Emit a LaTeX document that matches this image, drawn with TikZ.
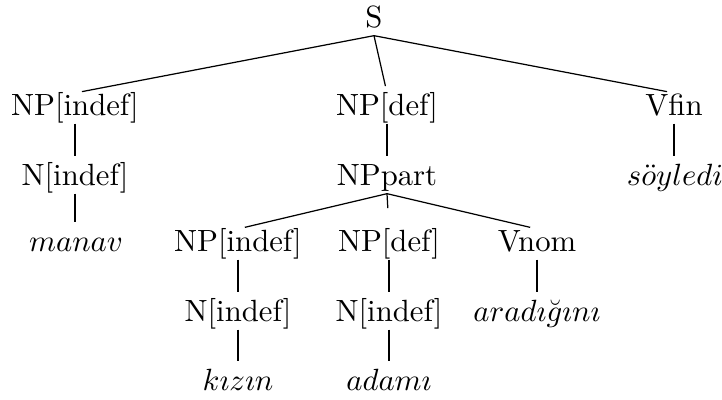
\documentclass[tikz,border=0pt]{standalone}
\usepackage{amsmath}
\begin{document}
\begin{tikzpicture}[x=0.3257pt,y=-0.3257pt,
  tn/.style={anchor=base,inner sep=0pt,outer sep=0pt,text height=7.5pt,text depth=2.5pt},
  br/.style={line width=0.4pt,shorten >=2.3pt},
  vr/.style={line width=0.6pt,shorten >=2.3pt},
  brmid/.style={line width=0.4pt,shorten >=6.8pt}]
\useasboundingbox (0,0) rectangle (722,400);
% level 0
\node[tn] (s) at (374,28) {S};
% level 1
\node[tn] (np1) at (75,116) {NP[indef]};
\node[tn] (np2) at (387,116) {NP[def]};
\node[tn] (vfin) at (674,116) {Vfin};
% level 2
\node[tn] (n1) at (75,186) {N[indef]};
\node[tn] (nppart) at (387,186) {NPpart};
\node[tn] (soyledi) at (675,186) {$s\ddot{o}yledi$};
% level 3
\node[tn] (manav) at (76,252) {$manav$};
\node[tn] (np3) at (238,252) {NP[indef]};
\node[tn] (np4) at (389,252) {NP[def]};
\node[tn] (vnom) at (537,252) {Vnom};
% level 4
\node[tn] (n2) at (238,322) {N[indef]};
\node[tn] (n3) at (389,322) {N[indef]};
\node[tn] (aradigini) at (537,322) {$arad\imath\breve{g}\imath n\imath$};
% level 5
\node[tn] (kizin) at (238,391) {$k\imath z\imath n$};
\node[tn] (adami) at (389,391) {$adam\imath$};
% edges
\draw[br] (s.south) -- (np1.north);
\draw[br] (s.south) -- (np2.north);
\draw[br] (s.south) -- (vfin.north);
\draw[vr] (np1.south) -- (n1.north);
\draw[vr] (np2.south) -- (nppart.north);
\draw[vr] (vfin.south) -- (vfin.south |- soyledi.north);
\draw[vr] (n1.south) -- (n1.south |- manav.north);
\draw[br] (nppart.south) -- (np3.north);
\draw[brmid] (nppart.south) -- (np4.north);
\draw[br] (nppart.south) -- (vnom.north);
\draw[vr] (np3.south) -- (n2.north);
\draw[vr] (np4.south) -- (n3.north);
\draw[vr] (vnom.south) -- (aradigini.north);
\draw[vr] (n2.south) -- (kizin.north);
\draw[vr] (n3.south) -- (adami.north);
\end{tikzpicture}
\end{document}
